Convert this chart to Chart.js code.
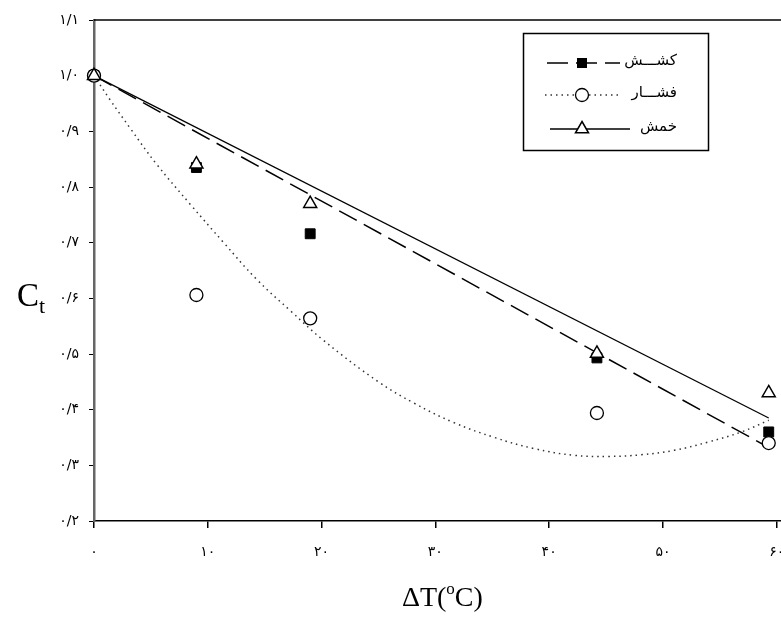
<!DOCTYPE html>
<html>
<head>
<meta charset="utf-8">
<script src="https://cdn.jsdelivr.net/npm/chart.js"></script>
<style>
  html, body { margin: 0; padding: 0; background: #fff; overflow: hidden; }
  #wrap { width: 914px; height: 619px; }
</style>
</head>
<body>
<div id="wrap"><canvas id="ctChart" width="914" height="619"></canvas></div>
<script>
var xValues = [0, 9, 19, 44.2, 59.3];
var tensionValues = [1.0, 0.835, 0.716, 0.493, 0.360];
var compressionValues = [1.0, 0.606, 0.564, 0.394, 0.340];
var bendingValues = [1.0, 0.841, 0.770, 0.501, 0.430];

// fitted curves
var tensionFitX = [0, 59.3];
var tensionFitY = [1.0, 0.332];
var bendingFitX = [0, 59.3];
var bendingFitY = [1.0, 0.385];
var compressionFitX = [0, 1.4, 3.2, 5.5, 8.5, 11.4, 14.3, 17.3, 20.2, 25.0, 28.1, 31.6, 35.2, 38.7, 42.2, 45.2, 48.1, 51.0, 54.0, 56.9, 59.3];
var compressionFitY = [1.0, 0.957, 0.905, 0.841, 0.768, 0.700, 0.634, 0.577, 0.524, 0.450, 0.412, 0.377, 0.350, 0.330, 0.318, 0.316, 0.319, 0.327, 0.342, 0.360, 0.381];

var seriesNames = ["کشـــش", "فشـــار", "خمش"];
var xTickLabels = ["۰", "۱۰", "۲۰", "۳۰", "۴۰", "۵۰", "۶۰", "۷۰"];
var yTickLabels = ["۰/۲", "۰/۳", "۰/۴", "۰/۵", "۰/۶", "۰/۷", "۰/۸", "۰/۹", "۱/۰", "۱/۱"];

function pts(xs, ys) {
  return xs.map(function (x, i) { return { x: x, y: ys[i] }; });
}

// top frame line, axis titles and the boxed legend
var extras = {
  id: "extras",
  afterDraw: function (chart) {
    var ctx = chart.ctx;
    var a = chart.chartArea;
    ctx.save();
    ctx.strokeStyle = "#000";
    ctx.lineWidth = 1.5;
    ctx.beginPath();
    ctx.moveTo(a.left, a.top);
    ctx.lineTo(a.right, a.top);
    ctx.stroke();

    // x title: ΔT(°C) with raised o
    ctx.fillStyle = "#000";
    ctx.textBaseline = "alphabetic";
    var p1 = "ΔT(", p2 = "C)";
    ctx.font = "28px 'Liberation Serif'";
    var w1 = ctx.measureText(p1).width, w3 = ctx.measureText(p2).width;
    ctx.font = "17px 'Liberation Serif'";
    var w2 = ctx.measureText("o").width;
    var cx = (chart.scales.x.getPixelForValue(0) + chart.scales.x.getPixelForValue(60)) / 2 + 7;
    var sx = cx - (w1 + w2 + w3) / 2, by = 606;
    ctx.font = "28px 'Liberation Serif'";
    ctx.textAlign = "left";
    ctx.fillText(p1, sx, by);
    ctx.font = "17px 'Liberation Serif'";
    ctx.fillText("o", sx + w1, by - 12);
    ctx.font = "28px 'Liberation Serif'";
    ctx.fillText(p2, sx + w1 + w2, by);

    // y title: C with subscript t
    ctx.font = "33px 'Liberation Serif'";
    ctx.fillText("C", 17, 306);
    var wc = ctx.measureText("C").width;
    ctx.font = "22px 'Liberation Serif'";
    ctx.fillText("t", 17 + wc, 313);

    // legend
    ctx.lineWidth = 1.5;
    ctx.strokeRect(523.5, 33.5, 185, 117);
    var rows = [63, 95, 129];
    ctx.font = "15px 'DejaVu Sans'";
    ctx.textAlign = "right";
    ctx.textBaseline = "middle";
    for (var i = 0; i < 3; i++) {
      ctx.fillText(seriesNames[i], 677, rows[i] - 2);
    }
    ctx.strokeStyle = "#000";
    // dashed
    ctx.lineWidth = 1.5;
    ctx.setLineDash([21, 8]);
    ctx.beginPath(); ctx.moveTo(547, rows[0]); ctx.lineTo(620, rows[0]); ctx.stroke();
    // dotted
    ctx.setLineDash([1.5, 4]);
    ctx.strokeStyle = "#333";
    ctx.beginPath(); ctx.moveTo(545, rows[1]); ctx.lineTo(620, rows[1]); ctx.stroke();
    // solid
    ctx.setLineDash([]);
    ctx.strokeStyle = "#000";
    ctx.lineWidth = 1.3;
    ctx.beginPath(); ctx.moveTo(550, rows[2]); ctx.lineTo(630, rows[2]); ctx.stroke();
    // markers
    var mx = 582;
    ctx.fillStyle = "#000";
    ctx.fillRect(mx - 5, rows[0] - 5, 10, 10);
    ctx.fillStyle = "#fff";
    ctx.lineWidth = 1.3;
    ctx.beginPath(); ctx.arc(mx, rows[1], 6.5, 0, Math.PI * 2); ctx.fill(); ctx.stroke();
    ctx.lineWidth = 1.5;
    ctx.beginPath();
    ctx.moveTo(mx, rows[2] - 7.5);
    ctx.lineTo(mx + 6.5, rows[2] + 3.75);
    ctx.lineTo(mx - 6.5, rows[2] + 3.75);
    ctx.closePath(); ctx.fill(); ctx.stroke();
    ctx.restore();
  }
};

var data = {
  datasets: [
    {
      label: seriesNames[2], data: pts(xValues, bendingValues),
      pointStyle: "triangle", pointRadius: 7.5, pointBackgroundColor: "#fff",
      pointBorderColor: "#000", pointBorderWidth: 1.5, showLine: false, clip: false
    },
    {
      label: seriesNames[1], data: pts(xValues, compressionValues),
      pointStyle: "circle", pointRadius: 6.5, pointBackgroundColor: "#fff",
      pointBorderColor: "#000", pointBorderWidth: 1.3, showLine: false, clip: false
    },
    {
      label: seriesNames[0], data: pts(xValues, tensionValues),
      pointStyle: "rect", pointRadius: 7, pointBackgroundColor: "#000",
      pointBorderColor: "#000", pointBorderWidth: 1, showLine: false, clip: false
    },
    {
      label: "bending fit", data: pts(bendingFitX, bendingFitY),
      showLine: true, borderColor: "#000", borderWidth: 1.3, pointRadius: 0, clip: false
    },
    {
      label: "compression fit", data: pts(compressionFitX, compressionFitY),
      showLine: true, borderColor: "#333", borderWidth: 1.5, borderDash: [1.5, 4],
      tension: 0.4, pointRadius: 0, clip: false
    },
    {
      label: "tension fit", data: pts(tensionFitX, tensionFitY),
      showLine: true, borderColor: "#000", borderWidth: 1.5, borderDash: [20, 8],
      pointRadius: 0, clip: false
    }
  ]
};

new Chart("ctChart", {
  type: "scatter",
  data: data,
  plugins: [extras],
  options: {
    responsive: false,
    animation: false,
    layout: { padding: { left: 0, top: 20, right: 11.5, bottom: 0 } },
    plugins: { legend: { display: false }, tooltip: { enabled: false } },
    scales: {
      x: {
        type: "linear", min: 0, max: 70,
        afterFit: function (s) { s.height = 98; },
        border: { display: true, color: "#000", width: 1.5 },
        grid: { drawOnChartArea: false, drawTicks: true, tickLength: 7, color: "#000", lineWidth: 1.5 },
        ticks: {
          stepSize: 10, padding: 16, color: "#000", maxRotation: 0,
          font: { family: "'DejaVu Sans'", size: 14 },
          callback: function (v, i) { return xTickLabels[i]; }
        }
      },
      y: {
        min: 0.2, max: 1.1,
        afterFit: function (s) { s.width = 94; },
        border: { display: true, color: "#666", width: 2.5 },
        grid: { drawOnChartArea: false, drawTicks: true, tickLength: 5, color: "#000", lineWidth: 1 },
        ticks: {
          stepSize: 0.1, padding: 10, color: "#000",
          font: { family: "'DejaVu Sans'", size: 14 },
          callback: function (v, i) { return yTickLabels[i]; }
        }
      }
    }
  }
});
</script>
</body>
</html>
